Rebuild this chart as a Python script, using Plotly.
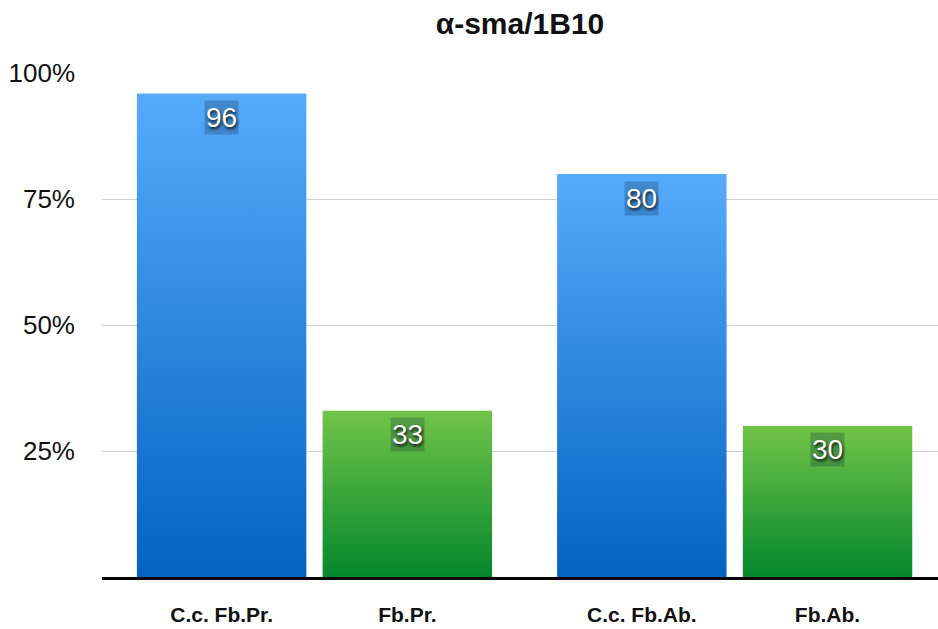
import plotly.graph_objects as go

# ---- data ----
categories = ["C.c. Fb.Pr.", "Fb.Pr.", "C.c. Fb.Ab.", "Fb.Ab."]
values = [96, 33, 80, 30]
series = ["blue", "green", "blue", "green"]
y_ticks = [25, 50, 75, 100]
y_tick_labels = ["25%", "50%", "75%", "100%"]
title = "α-sma/1B10"

# ---- style ----
gradients = {
    "blue": [[0, "#0462C2"], [1, "#56ABFA"]],
    "green": [[0, "#04872C"], [1, "#72C449"]],
}
bar_width = 1.0
group_spacing = 2.48
pair_offset = 0.548
FONT = "Liberation Sans, Arial, sans-serif"

# x positions: two groups, two bars each
positions = []
for i in range(len(categories)):
    g = i // 2
    side = -1 if i % 2 == 0 else 1
    positions.append(g * group_spacing + side * pair_offset)

fig = go.Figure()
for xc, v, s in zip(positions, values, series):
    x0, x1 = xc - bar_width / 2, xc + bar_width / 2
    fig.add_trace(go.Scatter(
        x=[x0, x1, x1, x0, x0],
        y=[0, 0, v, v, 0],
        mode="lines",
        line=dict(width=0),
        fill="toself",
        fillgradient=dict(type="vertical", colorscale=gradients[s]),
        hoverinfo="skip",
        showlegend=False,
    ))
    fig.add_annotation(
        x=xc, y=v, xref="x", yref="y",
        text=str(v), showarrow=False,
        yanchor="middle", yshift=-24,
        font=dict(family=FONT, size=28, color="white",
                  shadow="1px 2px 3px rgba(0,0,0,0.85)"),
        bgcolor="rgba(0,20,50,0.22)",
        borderpad=1,
    )

fig.update_layout(
    width=938, height=629,
    margin=dict(l=102, r=0, t=73, b=52, autoexpand=False),
    paper_bgcolor="white", plot_bgcolor="white",
    title=dict(text="<b>" + title + "</b>", x=0.5, xref="paper",
               y=1 - 23 / 629, yanchor="middle", automargin=False,
               font=dict(family=FONT, size=30, color="#111")),
    xaxis=dict(
        range=[-1.254, 3.68],
        tickvals=positions, ticktext=["<b>" + c + "</b>" for c in categories],
        tickfont=dict(family=FONT, size=21, color="#111"),
        showgrid=False, zeroline=False,
        showline=True, linecolor="black", linewidth=2.5,
        ticks="", ticklabelstandoff=17, automargin=False,
    ),
    yaxis=dict(
        range=[0, 100.05],
        tickvals=y_ticks, ticktext=y_tick_labels,
        tickfont=dict(family=FONT, size=26, color="#111"),
        showgrid=True, gridcolor="#CFCFCF", gridwidth=1,
        zeroline=False, showline=False,
        ticks="", ticklabelstandoff=26, automargin=False,
    ),
)

fig.write_html("out.html")
